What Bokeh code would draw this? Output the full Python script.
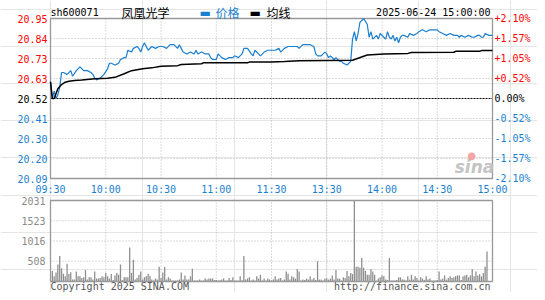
import numpy as np
from bokeh.plotting import figure
from bokeh.models import ColumnDataSource, Range1d
from bokeh.embed import file_html
from bokeh.resources import INLINE
from bokeh.core.properties import value, field

# ---------------- data ----------------
stock_code = "sh600071"
stock_name = "凤凰光学"
timestamp = "2025-06-24 15:00:00"
legend_price = "价格"
legend_avg = "均线"
copyright_text = "Copyright 2025 SINA.COM"
url_text = "http://finance.sina.com.cn"
logo_text = "sina"

prev_close = 20.52
max_pct = 2.10

time_ticks = [0, 30, 60, 90, 120, 150, 180, 210, 240]
time_labels = ["09:30", "10:00", "10:30", "11:00", "11:30", "13:30", "14:00", "14:30", "15:00"]

price_tick_labels = ["20.95", "20.84", "20.73", "20.63", "20.52", "20.41", "20.30", "20.20", "20.09"]
pct_tick_labels = ["+2.10%", "+1.57%", "+1.05%", "+0.52%", "0.00%", "-0.52%", "-1.05%", "-1.57%", "-2.10%"]

vol_max = 2031
vol_ticks = [2031, 1523, 1016, 508]
vol_tick_labels = ["2031", "1523", "1016", "508"]

# minute index since 09:30 (trading minutes, 120 = 11:30/13:00)
price_minutes = [0, 1, 2, 3, 4, 5, 6, 7, 9, 11, 12, 14, 16, 18, 20, 22, 23, 24, 25, 27,
                 29, 31, 32, 33, 35, 37, 38, 40, 41, 42, 44, 45, 47, 48, 49, 50, 51, 53, 55, 57,
                 59, 61, 63, 65, 67, 69, 70, 71, 72, 74, 76, 78, 79, 80, 82, 84, 86, 87, 88, 90,
                 91, 93, 95, 97, 99, 100, 102, 104, 105, 107, 109, 110, 111, 113, 114, 116, 118, 120,
                 122, 124, 125, 127, 129, 130, 132, 134, 135, 137, 139, 141, 143, 144, 145, 147, 149, 150,
                 151, 152, 154, 155, 157, 158, 159, 161, 162, 163, 164, 165, 166, 167, 168, 169, 170, 172,
                 173, 174, 175, 177, 178, 179, 181, 182, 183, 184, 185, 186, 187, 188, 189, 190, 191, 192,
                 194, 195, 197, 199, 200, 202, 204, 206, 208, 210, 211, 213, 215, 217, 219, 221, 222, 223,
                 225, 227, 229, 230, 232, 233, 234, 235, 236, 238, 240]
price_values = [20.61, 20.52, 20.56, 20.52, 20.54, 20.58, 20.66, 20.66, 20.65, 20.67, 20.64, 20.67, 20.69, 20.67, 20.67, 20.66, 20.65, 20.63, 20.62, 20.63,
                20.65, 20.68, 20.71, 20.71, 20.70, 20.71, 20.73, 20.74, 20.74, 20.78, 20.77, 20.79, 20.80, 20.79, 20.77, 20.80, 20.82, 20.78, 20.80, 20.79,
                20.80, 20.80, 20.79, 20.81, 20.81, 20.79, 20.81, 20.79, 20.77, 20.76, 20.77, 20.76, 20.78, 20.76, 20.77, 20.76, 20.76, 20.74, 20.73, 20.73,
                20.76, 20.74, 20.73, 20.74, 20.74, 20.75, 20.74, 20.76, 20.79, 20.79, 20.76, 20.75, 20.78, 20.76, 20.75, 20.77, 20.78, 20.78,
                20.78, 20.79, 20.77, 20.79, 20.80, 20.80, 20.80, 20.80, 20.79, 20.81, 20.81, 20.81, 20.80, 20.76, 20.75, 20.75, 20.77, 20.76,
                20.74, 20.75, 20.73, 20.74, 20.72, 20.72, 20.71, 20.70, 20.71, 20.72, 20.84, 20.88, 20.83, 20.87, 20.93, 20.94, 20.95, 20.92,
                20.85, 20.88, 20.84, 20.86, 20.84, 20.87, 20.85, 20.84, 20.88, 20.85, 20.84, 20.86, 20.83, 20.85, 20.82, 20.85, 20.86, 20.86,
                20.85, 20.87, 20.86, 20.87, 20.88, 20.89, 20.88, 20.89, 20.89, 20.89, 20.88, 20.87, 20.86, 20.87, 20.86, 20.86, 20.85, 20.86,
                20.85, 20.86, 20.85, 20.85, 20.86, 20.86, 20.85, 20.85, 20.87, 20.86, 20.86]

avg_minutes = [0, 1, 2, 4, 6, 8, 10, 13, 17, 24, 31, 35, 40, 44, 50, 55, 60, 69, 71, 82,
               83, 107, 108, 120, 127, 135, 164, 167, 172, 181, 194, 196, 219, 220, 233, 234, 240]
avg_values = [20.61, 20.52, 20.52, 20.572, 20.595, 20.608, 20.613, 20.617, 20.62, 20.626, 20.629, 20.634, 20.653, 20.67, 20.68, 20.685, 20.694, 20.697, 20.703, 20.707,
              20.712, 20.713, 20.716, 20.717, 20.719, 20.724, 20.726, 20.737, 20.754, 20.76, 20.763, 20.768, 20.769, 20.774, 20.775, 20.778, 20.778]

# volume per minute, index = minute 0..240
volume = [0, 266, 129, 226, 427, 637, 330, 193, 129, 443,
          185, 234, 48, 48, 250, 129, 129, 89, 105, 290,
          48, 105, 105, 48, 250, 73, 73, 89, 129, 105,
          210, 129, 73, 185, 40, 153, 210, 169, 427, 40,
          105, 105, 105, 854, 210, 548, 48, 89, 169, 250,
          48, 105, 129, 193, 145, 48, 24, 73, 48, 370,
          89, 226, 370, 48, 105, 73, 24, 24, 24, 24,
          48, 226, 48, 153, 48, 48, 129, 322, 24, 24,
          24, 48, 24, 24, 73, 48, 73, 73, 73, 40,
          40, 24, 32, 48, 73, 24, 24, 89, 40, 105,
          24, 24, 24, 129, 32, 637, 48, 73, 105, 24,
          48, 24, 129, 73, 169, 24, 73, 24, 73, 48,
          24, 48, 129, 48, 73, 89, 24, 48, 250, 193,
          48, 129, 105, 73, 314, 250, 24, 48, 40, 73,
          48, 129, 48, 89, 40, 508, 48, 48, 24, 73,
          73, 48, 73, 153, 48, 290, 73, 73, 24, 105,
          89, 266, 129, 210, 185, 2400, 370, 370, 346, 588,
          346, 266, 169, 169, 314, 250, 169, 24, 73, 105,
          153, 129, 48, 40, 588, 24, 24, 24, 40, 105,
          105, 48, 48, 24, 129, 48, 169, 48, 129, 89,
          24, 105, 73, 40, 129, 48, 73, 24, 24, 24,
          40, 250, 48, 73, 153, 48, 89, 129, 89, 105,
          129, 153, 153, 40, 129, 153, 169, 105, 153, 314,
          129, 250, 153, 185, 129, 210, 370, 750, 0, 0,
          0]
vol_minutes = list(range(len(volume)))

# ---------------- style / layout ----------------
BLUE = "#1a7fd0"
RED = "#ff0000"
FRAME = "#999999"
GRID = "#b8b8b8"
BAR = "#8e8e8e"
MONO = "DejaVu Sans Mono"
CJK = "Noto Sans CJK SC"

W, H = 537, 292
FX0, FX1 = 50, 492          # chart frames, canvas px
PY0, PY1 = 18, 178          # price frame
VY0, VY1 = 200, 281         # volume frame

x_lo, x_hi = 0, 240
y_lo = prev_close * (1 - max_pct / 100)
y_hi = prev_close * (1 + max_pct / 100)
price_ticks = list(np.linspace(y_hi, y_lo, len(price_tick_labels)))

mpx = (x_hi - x_lo) / (FX1 - FX0)
ppx = (y_hi - y_lo) / (PY1 - PY0)
vpx = vol_max / (VY1 - VY0)


def cx(px):
    return x_lo + (px - FX0) * mpx


def cy(py):
    return y_hi - (py - PY0) * ppx


def vy(py):
    return (VY1 - py) * vpx


def tick_color(v):
    if abs(v - prev_close) < 1e-6:
        return "black"
    return RED if v > prev_close else BLUE


p = figure(width=W, height=H, x_range=Range1d(cx(0), cx(W)), y_range=Range1d(cy(H), cy(0)),
           output_backend="svg", toolbar_location=None,
           x_axis_location=None, y_axis_location=None,
           min_border=0, outline_line_color=None,
           background_fill_color="white", border_fill_color="white")
p.extra_y_ranges = {"vol": Range1d(vy(H), vy(0))}

# ---- price chart grid & frame ----
inner_x = time_ticks[1:-1]
p.segment(x0=inner_x, x1=inner_x, y0=[y_lo] * len(inner_x), y1=[y_hi] * len(inner_x),
          line_color=GRID, line_dash="1 2", line_width=1)
grid_y = [t for i, t in enumerate(price_ticks) if i not in (0, 4, 8)]
p.segment(x0=[x_lo] * len(grid_y), x1=[x_hi] * len(grid_y), y0=grid_y, y1=grid_y,
          line_color=GRID, line_dash="1 2", line_width=1)
p.segment(x0=[x_lo], x1=[x_hi], y0=[prev_close], y1=[prev_close],
          line_color="black", line_dash="2 1", line_width=1)
p.quad(left=[x_lo], right=[x_hi], bottom=[y_lo], top=[y_hi], fill_color=None,
       line_color=FRAME, line_width=1.3)

p.line(price_minutes, price_values, line_color=BLUE, line_width=1.2)
p.line(avg_minutes, avg_values, line_color="black", line_width=1.5)

# ---- volume chart ----
p.segment(x0=inner_x, x1=inner_x, y0=[0] * len(inner_x), y1=[vol_max] * len(inner_x),
          line_color=GRID, line_dash="1 2", line_width=1, y_range_name="vol")
p.segment(x0=[x_lo] * 3, x1=[x_hi] * 3, y0=vol_ticks[1:], y1=vol_ticks[1:],
          line_color=GRID, line_dash="1 2", line_width=1, y_range_name="vol")
bar_tops = [min(v, vol_max) for v in volume]
p.vbar(x=vol_minutes, top=bar_tops, bottom=0, width=0.7, fill_color=BAR, line_color=None,
       y_range_name="vol")
p.quad(left=[x_lo], right=[x_hi], bottom=[0], top=[vol_max], fill_color=None,
       line_color=FRAME, line_width=1.3, y_range_name="vol")

# ---- texts ----
left_src = ColumnDataSource(dict(x=[cx(FX0 - 3)] * len(price_ticks), y=price_ticks,
                                 text=price_tick_labels, c=[tick_color(v) for v in price_ticks]))
p.text(x="x", y="y", text="text", source=left_src, text_color=field("c"),
       text_align="right", text_baseline="middle",
       text_font=value(MONO), text_font_size=value("10px"))
right_src = ColumnDataSource(dict(x=[cx(FX1 + 2)] * len(price_ticks), y=price_ticks,
                                  text=pct_tick_labels, c=[tick_color(v) for v in price_ticks]))
p.text(x="x", y="y", text="text", source=right_src, text_color=field("c"),
       text_align="left", text_baseline="middle",
       text_font=value(MONO), text_font_size=value("10px"))
time_src = ColumnDataSource(dict(x=time_ticks, y=[cy(188.5)] * len(time_ticks), text=time_labels))
p.text(x="x", y="y", text="text", source=time_src, text_color=BLUE,
       text_align="center", text_baseline="middle",
       text_font=value(MONO), text_font_size=value("10px"))
vol_src = ColumnDataSource(dict(x=[cx(FX0 - 5)] * len(vol_ticks), y=vol_ticks, text=vol_tick_labels))
p.text(x="x", y="y", text="text", source=vol_src, text_color="#8a8a8a",
       text_align="right", text_baseline="middle", y_range_name="vol",
       text_font=value(MONO), text_font_size=value("10px"))


def put(txt, px, py, font=MONO, size="10px", color="black", align="left", style="normal",
        yfun=cy, rng="default"):
    p.text(x=[cx(px)], y=[yfun(py)], text=[txt], text_font=value(font), text_font_size=value(size),
           text_color=color, text_align=align, text_baseline="middle",
           text_font_style=style, y_range_name=rng)


hy = 12
put(stock_code, 50, hy)
put(stock_name, 121, hy, font=CJK, size="12px")
put("▬", 199, hy, font="DejaVu Sans", size="12px", color=BLUE)
put(legend_price, 215, hy, font=CJK, size="12px", color=BLUE)
put("▬", 249, hy, font="DejaVu Sans", size="12px", color="black")
put(legend_avg, 266, hy, font=CJK, size="12px")
put(timestamp, 490, hy, align="right")
put(logo_text, 474, 166, font="DejaVu Sans", size="17px", color="#c4c4c4", align="center",
    style="bold italic")
put("●", 471, 155, font="DejaVu Sans", size="10px", color="#f3a5a5", align="center")
put(copyright_text, 50, 286, color="#555555", yfun=vy, rng="vol")
put(url_text, 490, 286, color="#555555", align="right", yfun=vy, rng="vol")

open("out.html", "w").write(file_html(p, INLINE))
